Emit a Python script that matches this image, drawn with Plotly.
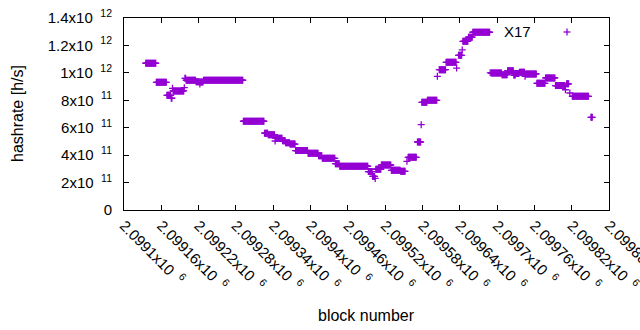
import plotly.graph_objects as go

# Run-length encoded data: block ranges with constant hashrate
seg_start = [2099135, 2099152, 2099169, 2099176, 2099178, 2099179, 2099197, 2099198, 2099200, 2099216,
             2099222, 2099223, 2099228, 2099292, 2099326, 2099332, 2099343, 2099344, 2099355, 2099360,
             2099367, 2099376, 2099396, 2099413, 2099419, 2099440, 2099447, 2099493, 2099500, 2099504,
             2099505, 2099514, 2099530, 2099545, 2099555, 2099557, 2099572, 2099578, 2099579, 2099588,
             2099604, 2099607, 2099618, 2099635, 2099638, 2099644, 2099645, 2099654, 2099661, 2099689,
             2099691, 2099708, 2099717, 2099727, 2099730, 2099736, 2099745, 2099746, 2099764, 2099778,
             2099794, 2099810, 2099812, 2099817, 2099821, 2099851]
seg_end = [2099151, 2099168, 2099175, 2099177, 2099178, 2099196, 2099197, 2099199, 2099215, 2099221,
           2099222, 2099227, 2099291, 2099325, 2099331, 2099342, 2099343, 2099354, 2099359, 2099366,
           2099375, 2099395, 2099412, 2099418, 2099439, 2099446, 2099492, 2099499, 2099503, 2099504,
           2099513, 2099529, 2099544, 2099552, 2099555, 2099570, 2099577, 2099578, 2099587, 2099603,
           2099604, 2099617, 2099634, 2099635, 2099643, 2099644, 2099653, 2099660, 2099688, 2099689,
           2099707, 2099716, 2099726, 2099729, 2099735, 2099744, 2099745, 2099763, 2099777, 2099793,
           2099809, 2099810, 2099815, 2099817, 2099847, 2099853]
seg_value = [1.07e12, 9.31e11, 8.36e11, 8.15e11, 8.87e11, 8.68e11, 8.92e11, 9.6e11, 9.46e11, 9.35e11,
             9.19e11, 9.33e11, 9.46e11, 6.47e11, 5.6e11, 5.49e11, 5.03e11, 5.23e11, 5.05e11, 4.91e11,
             4.81e11, 4.33e11, 4.13e11, 3.96e11, 3.77e11, 3.38e11, 3.19e11, 2.8e11, 2.45e11, 2.3e11,
             2.97e11, 3.28e11, 2.89e11, 2.82e11, 3.55e11, 3.84e11, 4.96e11, 6.22e11, 7.85e11, 8.0e11,
             9.75e11, 1.023e12, 1.077e12, 1.035e12, 1.128e12, 1.167e12, 1.23e12, 1.26e12, 1.296e12, 1.0e12,
             9.99e11, 9.87e11, 1.016e12, 9.84e11, 9.95e11, 1.004e12, 9.75e11, 9.92e11, 9.24e11, 9.63e11,
             9.07e11, 8.77e11, 9.2e11, 8.53e11, 8.29e11, 6.76e11]

SP = "\u2002"
x_ticks = [2099100 + 60 * i for i in range(14)]
x_ticktext = [f"2.0991x10{SP}<sup>6</sup>", f"2.09916x10{SP}<sup>6</sup>", f"2.09922x10{SP}<sup>6</sup>",
              f"2.09928x10{SP}<sup>6</sup>", f"2.09934x10{SP}<sup>6</sup>", f"2.0994x10{SP}<sup>6</sup>",
              f"2.09946x10{SP}<sup>6</sup>", f"2.09952x10{SP}<sup>6</sup>", f"2.09958x10{SP}<sup>6</sup>",
              f"2.09964x10{SP}<sup>6</sup>", f"2.0997x10{SP}<sup>6</sup>", f"2.09976x10{SP}<sup>6</sup>",
              f"2.09982x10{SP}<sup>6</sup>", f"2.09988x10{SP}<sup>6</sup>"]
y_ticks = [0, 2e11, 4e11, 6e11, 8e11, 1e12, 1.2e12, 1.4e12]
y_ticktext = ["0", f"2x10{SP}<sup>11</sup>", f"4x10{SP}<sup>11</sup>", f"6x10{SP}<sup>11</sup>",
              f"8x10{SP}<sup>11</sup>", f"1x10{SP}<sup>12</sup>", f"1.2x10{SP}<sup>12</sup>",
              f"1.4x10{SP}<sup>12</sup>"]

blocks, rates = [], []
for s, e, v in zip(seg_start, seg_end, seg_value):
    for b in range(s, e + 1):
        blocks.append(b)
        rates.append(v)

COLOR = "#9400d3"
FONT = "Liberation Sans, Arial, sans-serif"

fig = go.Figure()
fig.add_trace(go.Scatter(
    x=blocks, y=rates, mode="markers", name="X17", showlegend=False,
    marker=dict(symbol="cross-thin", size=5, line=dict(color=COLOR, width=1.3), color=COLOR),
))

axis_common = dict(
    showline=True, linecolor="black", linewidth=1, mirror="allticks",
    ticks="inside", ticklen=5, tickcolor="black", tickwidth=1,
    showgrid=False, zeroline=False, ticklabeloverflow="allow",
    tickfont=dict(family=FONT, size=15, color="black"),
)

fig.update_xaxes(range=[2099100, 2099880], tickvals=x_ticks, ticktext=x_ticktext,
                 tickangle=45, **axis_common)
fig.update_yaxes(range=[0, 1.4e12], tickvals=y_ticks, ticktext=y_ticktext,
                 ticklabelstandoff=8, **axis_common)

# axis titles
fig.add_annotation(text="block number", xref="paper", yref="paper", x=0.5, y=0,
                   xanchor="center", yanchor="middle",
                   yshift=-105, showarrow=False, font=dict(family=FONT, size=16, color="black"))
fig.add_annotation(text="hashrate [h/s]", xref="paper", yref="paper", x=0, y=0.5,
                   xanchor="center", yanchor="middle",
                   xshift=-107, textangle=-90, showarrow=False,
                   font=dict(family=FONT, size=16, color="black"))

# legend key (gnuplot style: text then sample)
fig.add_annotation(text="X17", xref="paper", yref="paper", x=(533 - 124) / 485, y=(210 - 32) / 192,
                   xanchor="right", yanchor="middle", showarrow=False,
                   font=dict(family=FONT, size=15, color="black"))
lx, ly = (567 - 124) / 485, (210 - 32) / 192
dx, dy = 3.5 / 485, 3.5 / 192
fig.add_shape(type="line", xref="paper", yref="paper", x0=lx - dx, x1=lx + dx, y0=ly, y1=ly,
              line=dict(color=COLOR, width=1.3))
fig.add_shape(type="line", xref="paper", yref="paper", x0=lx, x1=lx, y0=ly - dy, y1=ly + dy,
              line=dict(color=COLOR, width=1.3))

fig.update_layout(
    width=640, height=330,
    margin=dict(l=124, r=31, t=18, b=120, autoexpand=False),
    paper_bgcolor="white", plot_bgcolor="white",
    font=dict(family=FONT, size=15, color="black"),
)

fig.write_html("out.html", config={"displayModeBar": False},
               post_script="document.body.style.margin='0';")
